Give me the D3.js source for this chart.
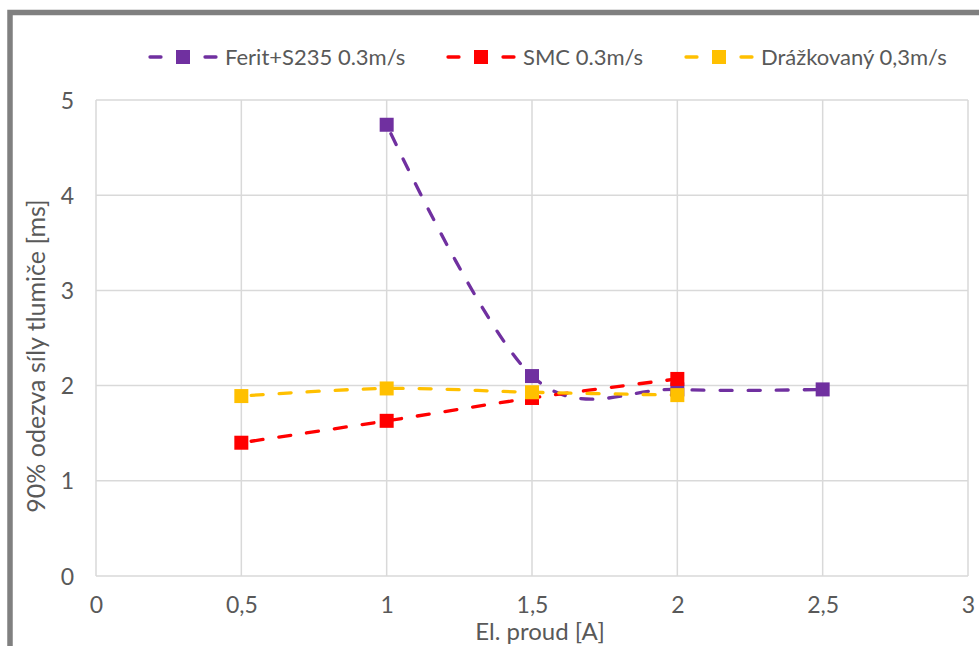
<!DOCTYPE html>
<html><head><meta charset="utf-8">
<script src="https://cdn.jsdelivr.net/npm/d3@7"></script>
<style>body{margin:0;background:#fff}svg{display:block}</style>
</head><body>
<svg id="c" width="979" height="646"></svg>
<script>
const seriesNames = ["Ferit+S235 0.3m/s", "SMC 0.3m/s", "Drážkovaný 0,3m/s"];
const seriesColors = ["#7030A0", "#FF0000", "#FFC000"];
const feritX = [1, 1.5, 2, 2.5];
const feritY = [4.74, 2.10, 1.96, 1.96];
const smcX = [0.5, 1, 1.5, 2];
const smcY = [1.40, 1.63, 1.87, 2.07];
const drazX = [0.5, 1, 1.5, 2];
const drazY = [1.89, 1.97, 1.93, 1.90];
const xTicks = [0, 0.5, 1, 1.5, 2, 2.5, 3];
const yTicks = [0, 1, 2, 3, 4, 5];
const xTitle = "El. proud [A]";
const yTitle = "90% odezva síly tlumiče [ms]";

const series = [
  {name: seriesNames[0], color: seriesColors[0], pts: feritX.map((x,i)=>[x, feritY[i]])},
  {name: seriesNames[1], color: seriesColors[1], pts: smcX.map((x,i)=>[x, smcY[i]])},
  {name: seriesNames[2], color: seriesColors[2], pts: drazX.map((x,i)=>[x, drazY[i]])}
];

const FONT = "Lato, 'Open Sans', sans-serif";
const TXT = "#595959";
const svg = d3.select("#c");
const L = 96, R = 968, T = 100, B = 576;
const x = d3.scaleLinear().domain([0, 3]).range([L, R]);
const y = d3.scaleLinear().domain([0, 5]).range([B, T]);

// frame
svg.append("rect").attr("x", 10).attr("y", 12.5).attr("width", 1000).attr("height", 700)
  .attr("fill", "none").attr("stroke", "#808080").attr("stroke-width", 5.5);

// grid
const g = svg.append("g");
g.selectAll(".gx").data(xTicks).join("line")
  .attr("x1", d=>x(d)).attr("x2", d=>x(d)).attr("y1", T).attr("y2", B)
  .attr("stroke", "#D9D9D9").attr("stroke-width", 1.5);
g.selectAll(".gy").data(yTicks).join("line")
  .attr("y1", d=>y(d)).attr("y2", d=>y(d)).attr("x1", L).attr("x2", R)
  .attr("stroke", "#D9D9D9").attr("stroke-width", 1.5);

// axes labels via d3 axes
const fmt = d => String(d).replace(".", ",");
const ax = svg.append("g").attr("transform", `translate(0,${B})`)
  .call(d3.axisBottom(x).tickValues(xTicks).tickFormat(fmt).tickSize(0).tickPadding(21));
const ay = svg.append("g").attr("transform", `translate(${L},0)`)
  .call(d3.axisLeft(y).tickValues(yTicks).tickFormat(fmt).tickSize(0).tickPadding(22));
[ax, ay].forEach(a => {
  a.select(".domain").remove();
  a.selectAll("text").attr("fill", TXT).attr("font-family", FONT).attr("font-size", 23);
});
ay.selectAll("text").attr("dy", "0.35em");

// titles
svg.append("text").attr("x", 540).attr("y", 640).attr("text-anchor", "middle")
  .attr("fill", TXT).attr("font-family", FONT).attr("font-size", 24).text(xTitle);
svg.append("text").attr("transform", "translate(45,356) rotate(-90)").attr("text-anchor", "middle")
  .attr("fill", TXT).attr("font-family", FONT).attr("font-size", 25).text(yTitle);

// lines
const line = d3.line().x(d=>x(d[0])).y(d=>y(d[1])).curve(d3.curveCardinal.tension(0));
const MS = 14;
series.forEach(s => {
  svg.append("path").attr("d", line(s.pts)).attr("fill", "none").attr("stroke", s.color)
    .attr("stroke-width", 3.3).attr("stroke-dasharray", "12,16").attr("stroke-dashoffset", -10)
    .attr("stroke-linecap", "round");
});
series.forEach(s => {
  svg.selectAll(null).data(s.pts).join("rect")
    .attr("x", d=>x(d[0]) - MS/2).attr("y", d=>y(d[1]) - MS/2)
    .attr("width", MS).attr("height", MS).attr("fill", s.color);
});

// legend
const legX = [148, 446, 684];
series.forEach((s, i) => {
  const lg = svg.append("g").attr("transform", `translate(${legX[i]},57)`);
  lg.append("line").attr("x1", 2).attr("x2", 13).attr("stroke", s.color).attr("stroke-width", 3.3).attr("stroke-linecap", "round");
  lg.append("line").attr("x1", 57).attr("x2", 68).attr("stroke", s.color).attr("stroke-width", 3.3).attr("stroke-linecap", "round");
  lg.append("rect").attr("x", 35 - MS/2).attr("y", -MS/2).attr("width", MS).attr("height", MS).attr("fill", s.color);
  lg.append("text").attr("x", 77).attr("dy", "0.35em").attr("fill", TXT)
    .attr("font-family", FONT).attr("font-size", 22).text(s.name);
});
</script>
</body></html>
